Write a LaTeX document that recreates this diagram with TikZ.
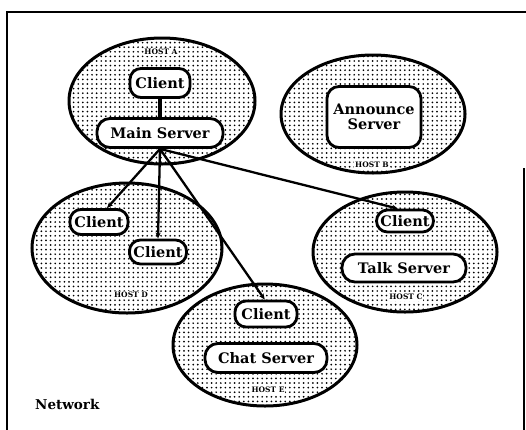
\documentclass[tikz,border=0pt]{standalone}
\usepackage{fontspec}
\setmainfont{DejaVu Serif}
\usetikzlibrary{shapes.geometric,patterns.meta,arrows.meta}
\begin{document}
\begin{tikzpicture}[x=1pt,y=-1pt,
  host/.style={ellipse,draw,line width=3pt,inner sep=0pt,
    preaction={fill=white},pattern={Dots[distance=4.6pt,radius=0.95pt]}},
  box/.style={draw,line width=2.8pt,fill=white,rounded corners=11pt,inner sep=0pt,
    align=center,font=\fontsize{14.5}{16}\selectfont\bfseries},
  hostlbl/.style={fill=white,inner sep=0.8pt,font=\fontsize{7.5}{8}\selectfont\bfseries},
  conn/.style={line width=2.3pt,-{Stealth[length=6pt,width=5pt]}},
  frameline/.style={line width=2pt}]
\useasboundingbox (0,0) rectangle (526,429);
% frame
\draw[frameline,line width=2.8pt] (7,432) -- (7,12) -- (526,12);
\draw[frameline,line width=1.2pt] (524,168) -- (524,432);
% hosts
\node[host,minimum width=186pt,minimum height=126pt] (hA) at (162,101) {};
\node[host,minimum width=184pt,minimum height=118pt] (hB) at (373,114) {};
\node[host,minimum width=190pt,minimum height=130pt] (hD) at (127,248) {};
\node[host,minimum width=184pt,minimum height=120pt] (hC) at (405,252) {};
\node[host,minimum width=184pt,minimum height=122pt] (hE) at (265,345) {};
% host labels
\node[hostlbl] (lA) at (161,52) {HOST A};
\node[hostlbl] (lB) at (372,165) {HOST B};
\node[hostlbl] (lD) at (131,295) {HOST D};
\node[hostlbl] (lC) at (406,297) {HOST C};
\node[hostlbl] (lE) at (268,390) {HOST E};
% boxes
\node[box,minimum width=60pt,minimum height=29pt] (ca) at (160,83) {Client};
\node[box,minimum width=126pt,minimum height=29pt,rounded corners=13pt] (ms) at (160,133) {Main Server};
\node[box,minimum width=94pt,minimum height=61pt,rounded corners=12pt] (as) at (374,117) {Announce\\[-1pt]Server};
\node[box,minimum width=58pt,minimum height=25pt] (d1) at (99,222) {Client};
\node[box,minimum width=57pt,minimum height=24pt] (d2) at (158,252) {Client};
\node[box,minimum width=57pt,minimum height=22pt] (cc) at (405,221) {Client};
\node[box,minimum width=124pt,minimum height=28pt,rounded corners=13pt] (ts) at (404,268) {Talk Server};
\node[box,minimum width=62pt,minimum height=26pt] (ce) at (266,314) {Client};
\node[box,minimum width=122pt,minimum height=29pt,rounded corners=13pt] (cs) at (266,358) {Chat Server};
% connectors
\draw[line width=4.5pt] (ca.south) -- (ms.north);
\draw[conn] (ms.south) -- (d1.60);
\draw[conn] (ms.south) -- (d2.north);
\draw[conn] (ms.south) -- (ce.95);
\draw[conn] (ms.south) -- (cc.120);
% network label
\node[anchor=west,inner sep=0pt,font=\fontsize{13.5}{15}\selectfont\bfseries] (net) at (35,404) {Network};
\end{tikzpicture}
\end{document}
